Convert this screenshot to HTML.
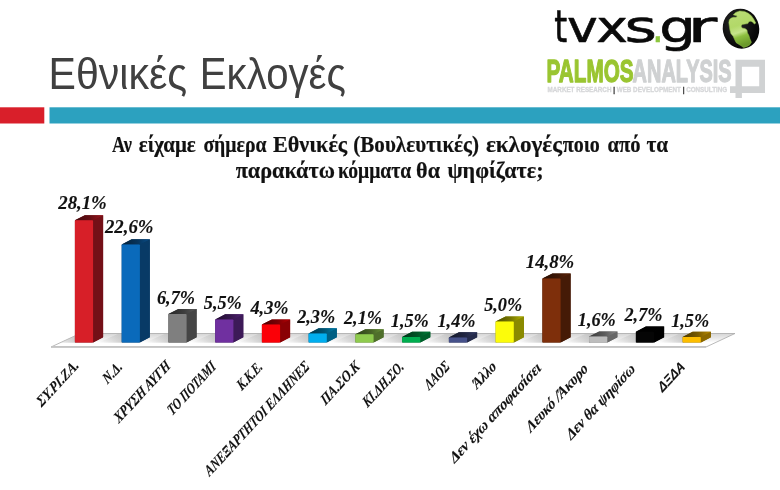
<!DOCTYPE html>
<html lang="el"><head><meta charset="utf-8"><title>Εθνικές Εκλογές</title>
<style>html,body{margin:0;padding:0;background:#fff;}body{width:780px;height:490px;overflow:hidden;position:relative;}svg{position:absolute;left:0;top:0;display:block}</style>
</head><body>
<svg width="780" height="490" viewBox="0 0 780 490">
<defs>
<linearGradient id="fl" x1="0" y1="0" x2="0" y2="1"><stop offset="0" stop-color="#d6d6d6"/><stop offset="0.4" stop-color="#ececec"/><stop offset="0.68" stop-color="#ffffff"/><stop offset="1" stop-color="#ffffff"/></linearGradient>
<linearGradient id="gl" x1="0" y1="0" x2="0.25" y2="1"><stop offset="0" stop-color="#bcdc78"/><stop offset="0.45" stop-color="#b2d868"/><stop offset="0.64" stop-color="#c6e48c"/><stop offset="0.76" stop-color="#8dbf3f"/><stop offset="1" stop-color="#6b992b"/></linearGradient>
<radialGradient id="gb" cx="0.4" cy="0.35" r="0.75"><stop offset="0" stop-color="#2a2a2a"/><stop offset="0.7" stop-color="#0a0a0a"/><stop offset="1" stop-color="#000"/></radialGradient>
<linearGradient id="t0" x1="0" y1="0" x2="1" y2="0"><stop offset="0" stop-color="#40090d"/><stop offset="0.55" stop-color="#660e14"/><stop offset="1" stop-color="#9c161e"/></linearGradient>
<linearGradient id="t1" x1="0" y1="0" x2="1" y2="0"><stop offset="0" stop-color="#042038"/><stop offset="0.55" stop-color="#07335a"/><stop offset="1" stop-color="#094d88"/></linearGradient>
<linearGradient id="t2" x1="0" y1="0" x2="1" y2="0"><stop offset="0" stop-color="#262626"/><stop offset="0.55" stop-color="#3d3d3d"/><stop offset="1" stop-color="#5c5c5c"/></linearGradient>
<linearGradient id="t3" x1="0" y1="0" x2="1" y2="0"><stop offset="0" stop-color="#220e30"/><stop offset="0.55" stop-color="#36174d"/><stop offset="1" stop-color="#512375"/></linearGradient>
<linearGradient id="t4" x1="0" y1="0" x2="1" y2="0"><stop offset="0" stop-color="#4c0002"/><stop offset="0.55" stop-color="#790004"/><stop offset="1" stop-color="#b70005"/></linearGradient>
<linearGradient id="t5" x1="0" y1="0" x2="1" y2="0"><stop offset="0" stop-color="#003448"/><stop offset="0.55" stop-color="#005473"/><stop offset="1" stop-color="#007fae"/></linearGradient>
<linearGradient id="t6" x1="0" y1="0" x2="1" y2="0"><stop offset="0" stop-color="#2b3d18"/><stop offset="0.55" stop-color="#466226"/><stop offset="1" stop-color="#699439"/></linearGradient>
<linearGradient id="t7" x1="0" y1="0" x2="1" y2="0"><stop offset="0" stop-color="#003418"/><stop offset="0.55" stop-color="#005426"/><stop offset="1" stop-color="#007f39"/></linearGradient>
<linearGradient id="t8" x1="0" y1="0" x2="1" y2="0"><stop offset="0" stop-color="#141829"/><stop offset="0.55" stop-color="#212641"/><stop offset="1" stop-color="#323a64"/></linearGradient>
<linearGradient id="t9" x1="0" y1="0" x2="1" y2="0"><stop offset="0" stop-color="#4c4c00"/><stop offset="0.55" stop-color="#797900"/><stop offset="1" stop-color="#b8b804"/></linearGradient>
<linearGradient id="t10" x1="0" y1="0" x2="1" y2="0"><stop offset="0" stop-color="#260e03"/><stop offset="0.55" stop-color="#3d1705"/><stop offset="1" stop-color="#5c2208"/></linearGradient>
<linearGradient id="t11" x1="0" y1="0" x2="1" y2="0"><stop offset="0" stop-color="#393939"/><stop offset="0.55" stop-color="#5c5c5c"/><stop offset="1" stop-color="#8a8a8a"/></linearGradient>
<linearGradient id="t12" x1="0" y1="0" x2="1" y2="0"><stop offset="0" stop-color="#000000"/><stop offset="0.55" stop-color="#000000"/><stop offset="1" stop-color="#020202"/></linearGradient>
<linearGradient id="t13" x1="0" y1="0" x2="1" y2="0"><stop offset="0" stop-color="#4c3900"/><stop offset="0.55" stop-color="#7a5c00"/><stop offset="1" stop-color="#b98a00"/></linearGradient>
<linearGradient id="sh" x1="0" y1="0" x2="1" y2="0"><stop offset="0" stop-color="#c8c8c8" stop-opacity="0"/><stop offset="0.55" stop-color="#c0c0c0" stop-opacity="0.7"/><stop offset="1" stop-color="#a8a8a8" stop-opacity="0.95"/></linearGradient>
<clipPath id="fc"><polygon points="51,347 706,347 735,333.5 80,333.5"/></clipPath>
</defs>
<rect width="780" height="490" fill="#fff"/>
<rect x="0" y="107.3" width="44.3" height="16.2" fill="#D91F2A"/>
<rect x="49.5" y="107.3" width="730.5" height="16.2" fill="#2CA1BF"/>
<text y="88.9" font-family="'Liberation Sans', sans-serif" font-size="44" fill="#404040"><tspan x="48.6" textLength="138.5" lengthAdjust="spacingAndGlyphs">Εθνικές</tspan> <tspan x="199.8" textLength="146" lengthAdjust="spacingAndGlyphs">Εκλογές</tspan></text>
<text y="151.9" font-family="'Liberation Serif', serif" font-weight="bold" font-size="22.8" fill="#111" stroke="#111" stroke-width="0.2"><tspan x="111.9" textLength="20.0" lengthAdjust="spacingAndGlyphs">Αν</tspan> <tspan x="138.8" textLength="57.0" lengthAdjust="spacingAndGlyphs">είχαμε</tspan> <tspan x="203.4" textLength="63.1" lengthAdjust="spacingAndGlyphs">σήμερα</tspan> <tspan x="273.0" textLength="74.2" lengthAdjust="spacingAndGlyphs">Εθνικές</tspan> <tspan x="353.3" textLength="125.7" lengthAdjust="spacingAndGlyphs">(Βουλευτικές)</tspan> <tspan x="485.9" textLength="76.1" lengthAdjust="spacingAndGlyphs">εκλογές</tspan> <tspan x="562.7" textLength="37.2" lengthAdjust="spacingAndGlyphs">ποιο</tspan> <tspan x="607.4" textLength="33.1" lengthAdjust="spacingAndGlyphs">από</tspan> <tspan x="646.5" textLength="21.7" lengthAdjust="spacingAndGlyphs">τα</tspan></text>
<text y="177.8" font-family="'Liberation Serif', serif" font-weight="bold" font-size="22.8" fill="#111" stroke="#111" stroke-width="0.2"><tspan x="235.7" textLength="99.2" lengthAdjust="spacingAndGlyphs">παρακάτω</tspan> <tspan x="337.9" textLength="73.4" lengthAdjust="spacingAndGlyphs">κόμματα</tspan> <tspan x="416.1" textLength="23.9" lengthAdjust="spacingAndGlyphs">θα</tspan> <tspan x="447.4" textLength="96.1" lengthAdjust="spacingAndGlyphs">ψηφίζατε;</tspan></text>
<polygon points="51,347 706,347 735,333.5 80,333.5" fill="url(#fl)" stroke="#a8a8a8" stroke-width="0.8"/>
<polygon points="51,346 706,346 706,347.8 51,347.8" fill="#c4c4c4"/>
<polygon points="50.9,342.8 75.4,342.8 92.4,334 70.9,334" fill="url(#sh)" clip-path="url(#fc)"/>
<polygon points="74.9,220.3 84.9,215.2 103.1,215.2 103.1,337.3 93.1,342.4 74.9,342.4" fill="#741017"/>
<polygon points="93.1,220.3 103.1,215.2 103.1,337.3 93.1,342.4" fill="#741017"/>
<polygon points="74.9,220.3 84.9,215.2 103.1,215.2 93.1,220.3" fill="url(#t0)"/>
<rect x="74.9" y="220.3" width="18.2" height="122.1" rx="0.8" fill="#D71F28"/>
<text x="82.5" y="208.7" text-anchor="middle" font-family="'Liberation Serif', serif" font-weight="bold" font-style="italic" font-size="18.2" fill="#111" stroke="#111" stroke-width="0.12" textLength="48.5" lengthAdjust="spacingAndGlyphs">28,1%</text>
<text transform="translate(79.5,366.3) scale(1,1.084) rotate(-45) skewX(-5)" x="0" y="0" text-anchor="end" font-family="'Liberation Serif', serif" font-weight="bold" font-style="italic" font-size="14.2" fill="#111" stroke="#111" stroke-width="0.12" textLength="53.7" lengthAdjust="spacingAndGlyphs">ΣΥ.ΡΙ.ΖΑ.</text>
<polygon points="97.7,342.8 122.2,342.8 139.2,334 117.7,334" fill="url(#sh)" clip-path="url(#fc)"/>
<polygon points="121.7,244.4 131.7,239.3 149.8,239.3 149.8,337.3 139.8,342.4 121.7,342.4" fill="#083A66"/>
<polygon points="139.8,244.4 149.8,239.3 149.8,337.3 139.8,342.4" fill="#083A66"/>
<polygon points="121.7,244.4 131.7,239.3 149.8,239.3 139.8,244.4" fill="url(#t1)"/>
<rect x="121.7" y="244.4" width="18.2" height="98.0" rx="0.8" fill="#0A6ABB"/>
<text x="129.2" y="233.1" text-anchor="middle" font-family="'Liberation Serif', serif" font-weight="bold" font-style="italic" font-size="18.2" fill="#111" stroke="#111" stroke-width="0.12" textLength="48.5" lengthAdjust="spacingAndGlyphs">22,6%</text>
<text transform="translate(123.0,367.8) scale(1,1.084) rotate(-45) skewX(-5)" x="0" y="0" text-anchor="end" font-family="'Liberation Serif', serif" font-weight="bold" font-style="italic" font-size="14.2" fill="#111" stroke="#111" stroke-width="0.12" textLength="21.9" lengthAdjust="spacingAndGlyphs">Ν.Δ.</text>
<polygon points="144.4,342.8 168.9,342.8 185.9,334 164.4,334" fill="url(#sh)" clip-path="url(#fc)"/>
<polygon points="168.4,314.1 178.4,309.0 196.6,309.0 196.6,337.3 186.6,342.4 168.4,342.4" fill="#454545"/>
<polygon points="186.6,314.1 196.6,309.0 196.6,337.3 186.6,342.4" fill="#454545"/>
<polygon points="168.4,314.1 178.4,309.0 196.6,309.0 186.6,314.1" fill="url(#t2)"/>
<rect x="168.4" y="314.1" width="18.2" height="28.3" rx="0.8" fill="#7F7F7F"/>
<text x="176.0" y="303.5" text-anchor="middle" font-family="'Liberation Serif', serif" font-weight="bold" font-style="italic" font-size="18.2" fill="#111" stroke="#111" stroke-width="0.12" textLength="38" lengthAdjust="spacingAndGlyphs">6,7%</text>
<text transform="translate(171.3,367.0) scale(1,1.084) rotate(-45) skewX(-5)" x="0" y="0" text-anchor="end" font-family="'Liberation Serif', serif" font-weight="bold" font-style="italic" font-size="14.2" fill="#111" stroke="#111" stroke-width="0.12" textLength="74.2" lengthAdjust="spacingAndGlyphs">ΧΡΥΣΗ ΑΥΓΗ</text>
<polygon points="191.2,342.8 215.7,342.8 232.7,334 211.2,334" fill="url(#sh)" clip-path="url(#fc)"/>
<polygon points="215.2,319.4 225.2,314.3 243.3,314.3 243.3,337.3 233.3,342.4 215.2,342.4" fill="#3D1A58"/>
<polygon points="233.3,319.4 243.3,314.3 243.3,337.3 233.3,342.4" fill="#3D1A58"/>
<polygon points="215.2,319.4 225.2,314.3 243.3,314.3 233.3,319.4" fill="url(#t3)"/>
<rect x="215.2" y="319.4" width="18.2" height="23.0" rx="0.8" fill="#7030A0"/>
<text x="222.8" y="308.8" text-anchor="middle" font-family="'Liberation Serif', serif" font-weight="bold" font-style="italic" font-size="18.2" fill="#111" stroke="#111" stroke-width="0.12" textLength="38" lengthAdjust="spacingAndGlyphs">5,5%</text>
<text transform="translate(216.6,367.8) scale(1,1.084) rotate(-45) skewX(-5)" x="0" y="0" text-anchor="end" font-family="'Liberation Serif', serif" font-weight="bold" font-style="italic" font-size="14.2" fill="#111" stroke="#111" stroke-width="0.12" textLength="62.9" lengthAdjust="spacingAndGlyphs">ΤΟ ΠΟΤΑΜΙ</text>
<polygon points="237.9,342.8 262.4,342.8 279.4,334 257.9,334" fill="url(#sh)" clip-path="url(#fc)"/>
<polygon points="261.9,324.6 271.9,319.5 290.1,319.5 290.1,337.3 280.1,342.4 261.9,342.4" fill="#8A0004"/>
<polygon points="280.1,324.6 290.1,319.5 290.1,337.3 280.1,342.4" fill="#8A0004"/>
<polygon points="261.9,324.6 271.9,319.5 290.1,319.5 280.1,324.6" fill="url(#t4)"/>
<rect x="261.9" y="324.6" width="18.2" height="17.8" rx="0.8" fill="#FB0007"/>
<text x="269.5" y="314.2" text-anchor="middle" font-family="'Liberation Serif', serif" font-weight="bold" font-style="italic" font-size="18.2" fill="#111" stroke="#111" stroke-width="0.12" textLength="38" lengthAdjust="spacingAndGlyphs">4,3%</text>
<text transform="translate(263.3,367.8) scale(1,1.084) rotate(-45) skewX(-5)" x="0" y="0" text-anchor="end" font-family="'Liberation Serif', serif" font-weight="bold" font-style="italic" font-size="14.2" fill="#111" stroke="#111" stroke-width="0.12" textLength="30.4" lengthAdjust="spacingAndGlyphs">Κ.Κ.Ε.</text>
<polygon points="284.6,342.8 309.1,342.8 326.1,334 304.6,334" fill="url(#sh)" clip-path="url(#fc)"/>
<polygon points="308.6,333.4 318.6,328.3 336.8,328.3 336.8,337.3 326.8,342.4 308.6,342.4" fill="#005F83"/>
<polygon points="326.8,333.4 336.8,328.3 336.8,337.3 326.8,342.4" fill="#005F83"/>
<polygon points="308.6,333.4 318.6,328.3 336.8,328.3 326.8,333.4" fill="url(#t5)"/>
<rect x="308.6" y="333.4" width="18.2" height="9.0" rx="0.8" fill="#00AEEF"/>
<text x="316.2" y="323.0" text-anchor="middle" font-family="'Liberation Serif', serif" font-weight="bold" font-style="italic" font-size="18.2" fill="#111" stroke="#111" stroke-width="0.12" textLength="38" lengthAdjust="spacingAndGlyphs">2,3%</text>
<text transform="translate(310.1,367.8) scale(1,1.084) rotate(-45) skewX(-5)" x="0" y="0" text-anchor="end" font-family="'Liberation Serif', serif" font-weight="bold" font-style="italic" font-size="14.2" fill="#111" stroke="#111" stroke-width="0.12" textLength="142.1" lengthAdjust="spacingAndGlyphs">ΑΝΕΞΑΡΤΗΤΟΙ ΕΛΛΗΝΕΣ</text>
<polygon points="331.4,342.8 355.9,342.8 372.9,334 351.4,334" fill="url(#sh)" clip-path="url(#fc)"/>
<polygon points="355.4,334.3 365.4,329.2 383.6,329.2 383.6,337.3 373.6,342.4 355.4,342.4" fill="#4F6F2B"/>
<polygon points="373.6,334.3 383.6,329.2 383.6,337.3 373.6,342.4" fill="#4F6F2B"/>
<polygon points="355.4,334.3 365.4,329.2 383.6,329.2 373.6,334.3" fill="url(#t6)"/>
<rect x="355.4" y="334.3" width="18.2" height="8.1" rx="0.8" fill="#8FCB4E"/>
<text x="363.0" y="323.9" text-anchor="middle" font-family="'Liberation Serif', serif" font-weight="bold" font-style="italic" font-size="18.2" fill="#111" stroke="#111" stroke-width="0.12" textLength="38" lengthAdjust="spacingAndGlyphs">2,1%</text>
<text transform="translate(360.4,367.8) scale(1,1.084) rotate(-45) skewX(-5)" x="0" y="0" text-anchor="end" font-family="'Liberation Serif', serif" font-weight="bold" font-style="italic" font-size="14.2" fill="#111" stroke="#111" stroke-width="0.12" textLength="49.5" lengthAdjust="spacingAndGlyphs">ΠΑ.ΣΟ.Κ</text>
<polygon points="378.1,342.8 402.6,342.8 419.6,334 398.1,334" fill="url(#sh)" clip-path="url(#fc)"/>
<polygon points="402.1,336.9 412.1,331.8 430.3,331.8 430.3,337.3 420.3,342.4 402.1,342.4" fill="#005F2B"/>
<polygon points="420.3,336.9 430.3,331.8 430.3,337.3 420.3,342.4" fill="#005F2B"/>
<polygon points="402.1,336.9 412.1,331.8 430.3,331.8 420.3,336.9" fill="url(#t7)"/>
<rect x="402.1" y="336.9" width="18.2" height="5.5" rx="0.8" fill="#00AE4F"/>
<text x="409.8" y="326.6" text-anchor="middle" font-family="'Liberation Serif', serif" font-weight="bold" font-style="italic" font-size="18.2" fill="#111" stroke="#111" stroke-width="0.12" textLength="38" lengthAdjust="spacingAndGlyphs">1,5%</text>
<text transform="translate(404.6,367.8) scale(1,1.084) rotate(-45) skewX(-5)" x="0" y="0" text-anchor="end" font-family="'Liberation Serif', serif" font-weight="bold" font-style="italic" font-size="14.2" fill="#111" stroke="#111" stroke-width="0.12" textLength="52.3" lengthAdjust="spacingAndGlyphs">ΚΙ.ΔΗ.ΣΟ.</text>
<polygon points="424.9,342.8 449.4,342.8 466.4,334 444.9,334" fill="url(#sh)" clip-path="url(#fc)"/>
<polygon points="448.9,337.4 458.9,332.3 477.1,332.3 477.1,337.3 467.1,342.4 448.9,342.4" fill="#252B4A"/>
<polygon points="467.1,337.4 477.1,332.3 477.1,337.3 467.1,342.4" fill="#252B4A"/>
<polygon points="448.9,337.4 458.9,332.3 477.1,332.3 467.1,337.4" fill="url(#t8)"/>
<rect x="448.9" y="337.4" width="18.2" height="5.0" rx="0.8" fill="#46518A"/>
<text x="456.5" y="327.0" text-anchor="middle" font-family="'Liberation Serif', serif" font-weight="bold" font-style="italic" font-size="18.2" fill="#111" stroke="#111" stroke-width="0.12" textLength="38" lengthAdjust="spacingAndGlyphs">1,4%</text>
<text transform="translate(450.3,367.8) scale(1,1.084) rotate(-45) skewX(-5)" x="0" y="0" text-anchor="end" font-family="'Liberation Serif', serif" font-weight="bold" font-style="italic" font-size="14.2" fill="#111" stroke="#111" stroke-width="0.12" textLength="29.7" lengthAdjust="spacingAndGlyphs">ΛΑΟΣ</text>
<polygon points="471.6,342.8 496.1,342.8 513.1,334 491.6,334" fill="url(#sh)" clip-path="url(#fc)"/>
<polygon points="495.6,321.6 505.6,316.5 523.9,316.5 523.9,337.3 513.9,342.4 495.6,342.4" fill="#8A8A00"/>
<polygon points="513.9,321.6 523.9,316.5 523.9,337.3 513.9,342.4" fill="#8A8A00"/>
<polygon points="495.6,321.6 505.6,316.5 523.9,316.5 513.9,321.6" fill="url(#t9)"/>
<rect x="495.6" y="321.6" width="18.2" height="20.8" rx="0.8" fill="#FCFC0A"/>
<text x="503.2" y="311.1" text-anchor="middle" font-family="'Liberation Serif', serif" font-weight="bold" font-style="italic" font-size="18.2" fill="#111" stroke="#111" stroke-width="0.12" textLength="38" lengthAdjust="spacingAndGlyphs">5,0%</text>
<text transform="translate(497.1,367.8) scale(1,1.084) rotate(-45) skewX(-5)" x="0" y="0" text-anchor="end" font-family="'Liberation Serif', serif" font-weight="bold" font-style="italic" font-size="14.2" fill="#111" stroke="#111" stroke-width="0.12" textLength="28.3" lengthAdjust="spacingAndGlyphs">Άλλο</text>
<polygon points="518.4,342.8 542.9,342.8 559.9,334 538.4,334" fill="url(#sh)" clip-path="url(#fc)"/>
<polygon points="542.4,278.6 552.4,273.5 570.6,273.5 570.6,337.3 560.6,342.4 542.4,342.4" fill="#451A06"/>
<polygon points="560.6,278.6 570.6,273.5 570.6,337.3 560.6,342.4" fill="#451A06"/>
<polygon points="542.4,278.6 552.4,273.5 570.6,273.5 560.6,278.6" fill="url(#t10)"/>
<rect x="542.4" y="278.6" width="18.2" height="63.8" rx="0.8" fill="#7E2F0B"/>
<text x="550.0" y="267.7" text-anchor="middle" font-family="'Liberation Serif', serif" font-weight="bold" font-style="italic" font-size="18.2" fill="#111" stroke="#111" stroke-width="0.12" textLength="48.5" lengthAdjust="spacingAndGlyphs">14,8%</text>
<text transform="translate(541.9,369.0) scale(1,1.084) rotate(-45) skewX(-5)" x="0" y="0" text-anchor="end" font-family="'Liberation Serif', serif" font-weight="bold" font-style="italic" font-size="14.2" fill="#111" stroke="#111" stroke-width="0.12" textLength="123.7" lengthAdjust="spacingAndGlyphs">Δεν έχω αποφασίσει</text>
<polygon points="565.1,342.8 589.6,342.8 606.6,334 585.1,334" fill="url(#sh)" clip-path="url(#fc)"/>
<polygon points="589.1,336.5 599.1,331.4 617.4,331.4 617.4,337.3 607.4,342.4 589.1,342.4" fill="#686868"/>
<polygon points="607.4,336.5 617.4,331.4 617.4,337.3 607.4,342.4" fill="#686868"/>
<polygon points="589.1,336.5 599.1,331.4 617.4,331.4 607.4,336.5" fill="url(#t11)"/>
<rect x="589.1" y="336.5" width="18.2" height="5.9" rx="0.8" fill="#BDBDBD"/>
<text x="596.8" y="326.1" text-anchor="middle" font-family="'Liberation Serif', serif" font-weight="bold" font-style="italic" font-size="18.2" fill="#111" stroke="#111" stroke-width="0.12" textLength="38" lengthAdjust="spacingAndGlyphs">1,6%</text>
<text transform="translate(588.8,369.8) scale(1,1.084) rotate(-45) skewX(-5)" x="0" y="0" text-anchor="end" font-family="'Liberation Serif', serif" font-weight="bold" font-style="italic" font-size="14.2" fill="#111" stroke="#111" stroke-width="0.12" textLength="82.0" lengthAdjust="spacingAndGlyphs">Λευκό /Άκυρο</text>
<polygon points="611.9,342.8 636.4,342.8 653.4,334 631.9,334" fill="url(#sh)" clip-path="url(#fc)"/>
<polygon points="635.9,331.7 645.9,326.6 664.1,326.6 664.1,337.3 654.1,342.4 635.9,342.4" fill="#000000"/>
<polygon points="654.1,331.7 664.1,326.6 664.1,337.3 654.1,342.4" fill="#000000"/>
<polygon points="635.9,331.7 645.9,326.6 664.1,326.6 654.1,331.7" fill="url(#t12)"/>
<rect x="635.9" y="331.7" width="18.2" height="10.7" rx="0.8" fill="#050505"/>
<text x="643.5" y="321.2" text-anchor="middle" font-family="'Liberation Serif', serif" font-weight="bold" font-style="italic" font-size="18.2" fill="#111" stroke="#111" stroke-width="0.12" textLength="38" lengthAdjust="spacingAndGlyphs">2,7%</text>
<text transform="translate(635.9,370.0) scale(1,1.084) rotate(-45) skewX(-5)" x="0" y="0" text-anchor="end" font-family="'Liberation Serif', serif" font-weight="bold" font-style="italic" font-size="14.2" fill="#111" stroke="#111" stroke-width="0.12" textLength="91.9" lengthAdjust="spacingAndGlyphs">Δεν θα ψηφίσω</text>
<polygon points="658.6,342.8 683.1,342.8 700.1,334 678.6,334" fill="url(#sh)" clip-path="url(#fc)"/>
<polygon points="682.6,336.9 692.6,331.8 710.9,331.8 710.9,337.3 700.9,342.4 682.6,342.4" fill="#8B6800"/>
<polygon points="700.9,336.9 710.9,331.8 710.9,337.3 700.9,342.4" fill="#8B6800"/>
<polygon points="682.6,336.9 692.6,331.8 710.9,331.8 700.9,336.9" fill="url(#t13)"/>
<rect x="682.6" y="336.9" width="18.2" height="5.5" rx="0.8" fill="#FDBE00"/>
<text x="690.2" y="326.6" text-anchor="middle" font-family="'Liberation Serif', serif" font-weight="bold" font-style="italic" font-size="18.2" fill="#111" stroke="#111" stroke-width="0.12" textLength="38" lengthAdjust="spacingAndGlyphs">1,5%</text>
<text transform="translate(685.5,367.8) scale(1,1.084) rotate(-45) skewX(-5)" x="0" y="0" text-anchor="end" font-family="'Liberation Sans', sans-serif" font-weight="bold" font-style="italic" font-size="12.8" fill="#111" stroke="#111" stroke-width="0.12" textLength="32.5" lengthAdjust="spacingAndGlyphs">ΔΞΔΑ</text>
<g font-family="'DejaVu Sans', sans-serif" font-size="43.7" fill="#0a0a0a" stroke="#0a0a0a" stroke-width="0.6" stroke-linejoin="round"><title>tvxs.gr</title>
<text transform="translate(554.31,41.8) scale(0.758,1)">t</text><text transform="translate(566.94,41.8) scale(1.191,1)">v</text><text transform="translate(596.35,41.8) scale(1.222,1)">x</text><text transform="translate(624.44,41.8) scale(1.423,1)">s</text><text transform="translate(652.05,41.8) scale(0.844,1)" fill="#8DC63F" stroke="#8DC63F">.</text><text transform="translate(659.13,41.8) scale(1.320,1)">g</text><text transform="translate(687.37,41.8) scale(1.666,1)">r</text>
</g>
<ellipse cx="741" cy="28.7" rx="18.2" ry="20.1" transform="rotate(-12 741 28.7)" fill="url(#gb)"/>
<path d="M733.2,14.8 L735.7,12.4 L739.6,10.9 L744.5,11.4 L748.4,13.3 L751.4,15.8 L753.8,19.2 L755.8,23.1 L754.3,24.1 L752.8,22.2 L750.9,21.2 L748.9,21.7 L747.9,23.6 L745.0,24.1 L742.1,24.6 L741.1,26.1 L742.1,28.0 L745.0,28.5 L747.0,30.0 L747.5,32.9 L748.9,35.4 L749.9,38.8 L751.4,42.3 L749.4,45.2 L746.5,46.7 L743.5,47.6 L741.1,45.7 L738.6,44.2 L736.2,42.7 L734.7,39.8 L733.2,36.4 L730.8,33.4 L729.8,29.5 L729.3,26.1 L728.8,22.6 L729.3,19.7 L730.8,18.2 L733.2,17.3 L736.2,17.3 L737.2,16.0 L734.7,15.3Z" fill="url(#gl)" stroke="#8dbb45" stroke-width="0.5" stroke-linejoin="round"/>
<text x="546.6" y="82.1" font-family="'Liberation Sans', sans-serif" font-weight="bold" font-size="31" fill="#9AC531" stroke="#9AC531" stroke-width="1.3" stroke-linejoin="round" textLength="87" lengthAdjust="spacingAndGlyphs">PALMOS</text>
<text x="632.6" y="82.1" font-family="'Liberation Sans', sans-serif" font-weight="bold" font-size="31" fill="#CFD1D2" stroke="#CFD1D2" stroke-width="1.3" stroke-linejoin="round" textLength="99" lengthAdjust="spacingAndGlyphs">ANALYSIS</text>
<text x="547.6" y="92.4" font-family="'Liberation Sans', sans-serif" font-weight="bold" font-size="8" fill="#D6D7D9" stroke="#D6D7D9" stroke-width="0.35" textLength="179.6" lengthAdjust="spacingAndGlyphs">MARKET RESEARCH <tspan fill="#333" stroke="#333">|</tspan> WEB DEVELOPMENT <tspan fill="#333" stroke="#333">|</tspan> CONSULTING</text>
<path d="M735.5,59.8H765V93.1H741.9V98H735.5V93.1H730V86.2H735.5Z M741.9,66.8V86.2H759.2V66.8Z" fill="#D0D2D3" fill-rule="evenodd"/>
</svg>
</body></html>
